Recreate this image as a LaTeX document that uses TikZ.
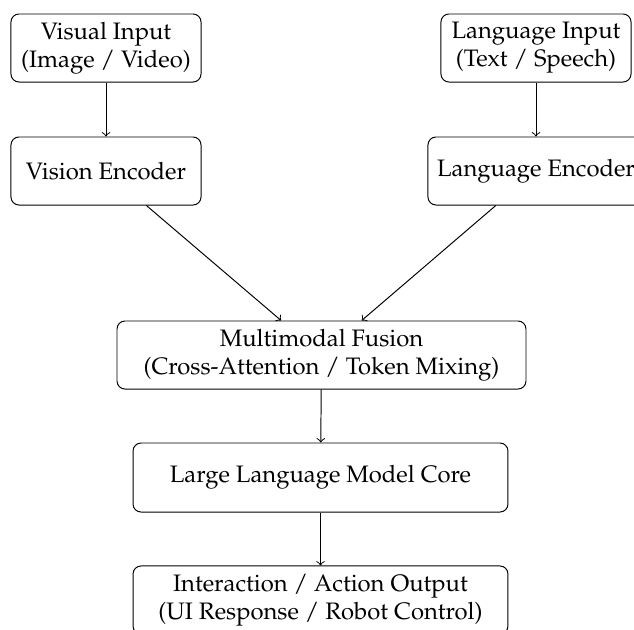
\documentclass[tikz,border=0pt]{standalone}
\usepackage[T1]{fontenc}
\usepackage{mathpazo}
\begin{document}
\begin{tikzpicture}[x=0.4115pt,y=-0.4115pt,
  box/.style={draw,rounded corners=3.3pt,align=center,inner sep=0pt,line width=0.4pt,minimum height=28pt,font=\fontsize{9.8}{11.6}\selectfont},
  arr/.style={->,line width=0.4pt}]
\useasboundingbox (0,0) rectangle (634,630);
\node[box,minimum width=78.2pt] (vis) at (106,48) {Visual Input\\(Image / Video)};
\node[box,minimum width=78.2pt] (venc) at (106,171) {Vision Encoder};
\node[box,minimum width=78.2pt] (lang) at (536,48) {Language Input\\(Text / Speech)};
\node[box,minimum width=88.9pt] (lenc) at (536,171) {Language Encoder};
\node[box,minimum width=168.3pt] (fus) at (321.5,355) {Multimodal Fusion\\(Cross-Attention / Token Mixing)};
\node[box,minimum width=154.3pt,minimum height=28.4pt] (llm) at (320.5,477.5) {Large Language Model Core};
\node[box,minimum width=154.3pt] (out) at (320.5,600) {Interaction / Action Output\\(UI Response / Robot Control)};
\draw[arr] (vis) -- (venc);
\draw[arr] (lang) -- (lenc);
\draw[arr] (venc) -- (fus);
\draw[arr] (lenc) -- (fus);
\draw[arr] (fus) -- (llm);
\draw[arr] (llm) -- (out);
\end{tikzpicture}
\end{document}
